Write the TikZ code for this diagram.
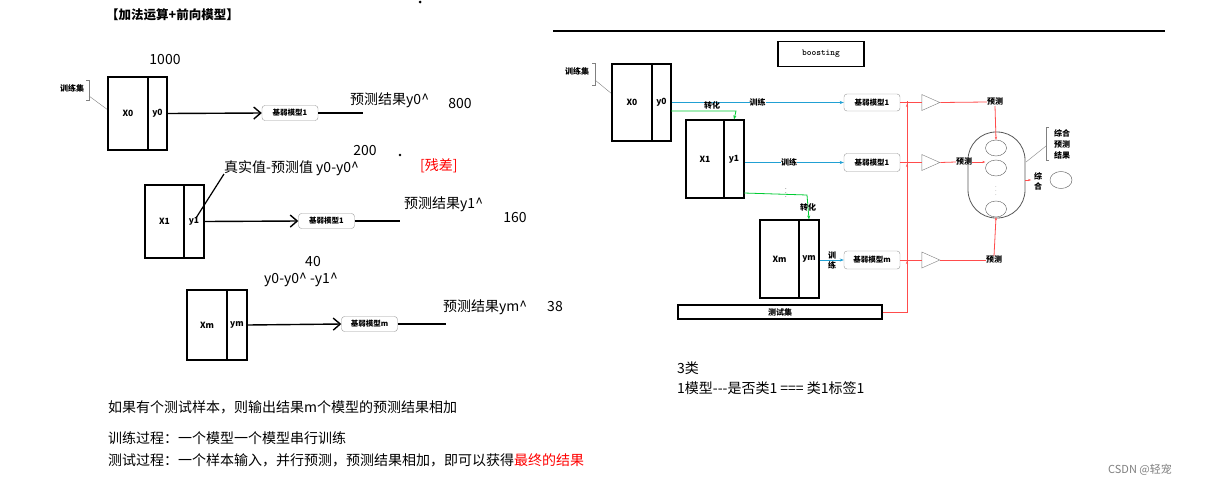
\documentclass[tikz,border=0pt]{standalone}
\usepackage{fontspec}
\setmainfont{Noto Sans CJK SC}
\usetikzlibrary{arrows.meta,shapes.geometric}
\begin{document}
\begin{tikzpicture}[x=1pt,y=-1pt,
 box/.style={draw,line width=1.3pt,inner sep=0pt,font=\fontsize{8.5}{9}\selectfont\bfseries},
 rbox/.style={draw,line width=1.1pt,inner sep=0pt,font=\fontsize{8.5}{9}\selectfont\bfseries},
 model/.style={draw=gray!80,rounded corners=3pt,fill=white,inner sep=1pt,minimum width=56pt,minimum height=15pt,font=\fontsize{7.5}{8}\selectfont\bfseries},
 txt/.style={inner sep=0pt,font=\fontsize{14}{16}\selectfont},
 big/.style={line width=1.4pt,-{Straight Barb[length=7pt,width=12pt,line width=1.4pt]}},
 cy/.style={draw=cyan!70!teal,line width=1pt,-{Stealth[length=4pt]}},
 gr/.style={draw=green!60!teal,line width=0.8pt},
 rd/.style={draw=red!70,line width=0.8pt},
 tri/.style={draw=gray,isosceles triangle,isosceles triangle stretches,minimum width=16pt,minimum height=18pt,inner sep=0pt},
 sm/.style={inner sep=0pt,font=\fontsize{8}{9}\selectfont\bfseries}]
\useasboundingbox (0,0) rectangle (1218,488);
\fill[white] (0,0) rectangle (1218,488);
% ---------- left ----------
\node[txt,anchor=west,font=\fontsize{12.5}{14}\selectfont\bfseries] (title) at (106,15) {【加法运算+前向模型】};
\fill (420,2) circle (1.5);
\node[txt] (n1000) at (165,60) {1000};
\node[sm] (trl) at (72,88) {训练集};
\draw[gray] (86,80) -- (89,80) -- (89,100) -- (86,100);
\draw[gray] (89,96) -- (108,110);
\node[box,minimum width=40pt,minimum height=73pt] (X0) at (128,113.5) {X0};
\node[box,minimum width=19pt,minimum height=73pt] (y0) at (157.5,113.5) {y0};
\node[model] (m0) at (290,113) {基弱模型1};
\coordinate (e0) at (363,113);
\draw[big] (y0.east) -- (m0.west);
\draw[line width=1.4pt] (m0.east) -- (e0);
\node[txt,anchor=west] (p0) at (350,100) {预测结果y0\textasciicircum};
\node[txt] (n800) at (460,104) {800};
\node[txt] (n200) at (365,151) {200};
\fill (400,155) circle (1.3);
\node[txt,anchor=west] (res) at (224,168) {真实值-预测值 y0-y0\textasciicircum};
\node[txt,red,anchor=west] (cc) at (420,166) {[残差]};
\node[box,minimum width=39pt,minimum height=73pt] (X1) at (164.5,221.5) {X1};
\node[box,minimum width=20pt,minimum height=73pt] (y1) at (194,221.5) {y1};
\coordinate (rs) at (224,174);
\draw[line width=1.2pt] (196,218) -- (rs);
\node[model] (m1) at (326.5,221) {基弱模型1};
\coordinate (e1) at (400,221);
\draw[big] (y1.east) -- (m1.west);
\draw[line width=1.4pt] (m1.east) -- (e1);
\node[txt,anchor=west] (p1) at (404,204) {预测结果y1\textasciicircum};
\node[txt] (n160) at (515,218) {160};
\node[txt] (n40) at (313,262) {40};
\node[txt,anchor=west] (r2) at (264,280) {y0-y0\textasciicircum\ -y1\textasciicircum};
\node[box,minimum width=40pt,minimum height=70pt] (Xm) at (207,325) {Xm};
\node[box,minimum width=20pt,minimum height=70pt] (ym) at (237,325) {ym};
\node[model] (mm) at (369.5,324) {基弱模型m};
\coordinate (em) at (446,324);
\draw[big] (ym.east) -- (mm.west);
\draw[line width=1.4pt] (mm.east) -- (em);
\node[txt,anchor=west] (pm) at (443,307) {预测结果ym\textasciicircum};
\node[txt] (n38) at (555,307) {38};
\node[txt,anchor=west] (b1) at (108,407) {如果有个测试样本，则输出结果m个模型的预测结果相加};
\node[txt,anchor=west] (b2) at (108,438) {训练过程：一个模型一个模型串行训练};
\node[txt,anchor=west] (b3) at (108,460) {测试过程：一个样本输入，并行预测，预测结果相加，即可以获得\textcolor{red}{最终的结果}};
% ---------- right ----------
\draw[line width=1.5pt] (553,31) -- (1165,31);
\node[draw,line width=1.3pt,minimum width=86pt,minimum height=25pt,inner sep=0pt,font=\ttfamily\bfseries\fontsize{9}{10}\selectfont] (boost) at (821,54) {boosting};
\node[sm] (rtr) at (577,71) {训练集};
\draw[gray] (592,63) -- (595,63) -- (595,85) -- (592,85);
\draw[gray] (595,80) -- (612,94);
\node[rbox,minimum width=40pt,minimum height=77pt] (RX0) at (632,102.5) {X0};
\node[rbox,minimum width=19pt,minimum height=77pt] (Ry0) at (661.5,102.5) {y0};
\node[rbox,minimum width=38pt,minimum height=78pt] (RX1) at (705,159) {X1};
\node[rbox,minimum width=20pt,minimum height=78pt] (Ry1) at (734,159) {y1};
\node[rbox,minimum width=39pt,minimum height=78pt] (RXm) at (779.5,259) {Xm};
\node[rbox,minimum width=20pt,minimum height=78pt] (Rym) at (809,259) {ym};
\node[model,minimum height=17pt] (RM1) at (872,102.5) {基弱模型1};
\node[model,minimum height=18pt] (RM2) at (872,162.5) {基弱模型1};
\node[model,minimum height=18pt] (RMm) at (872,260) {基弱模型m};
\draw[cy] (Ry0.east |- 0,102.5) -- (RM1.west) node[pos=0.5,sm,fill=white,text=black] {训练};
\draw[cy] (Ry1.east |- 0,162.5) -- (RM2.west) node[pos=0.45,sm,fill=white,text=black] {训练};
\draw[cy] (Rym.east |- 0,260) -- (RMm.west);
\node[sm,align=center,font=\fontsize{8}{10}\selectfont\bfseries] (trm) at (832,260) {训\\练};
\draw[gr,-{Stealth[length=4pt]}] (671,111) -- (736,111) -- (Ry1.north);
\node[sm] (zh1) at (712,105) {转化};
\draw[gr,-{Stealth[length=4pt]}] (744,193) -- (807,195) -- (Rym.north);
\node[inner sep=0pt,font=\fontsize{6}{6}\selectfont] (dots1) at (786,190) {$\vdots$};
\node[sm] (zh2) at (808,207) {转化};
\node[draw,line width=1.1pt,minimum width=204pt,minimum height=14pt,inner sep=0pt,font=\fontsize{8}{9}\selectfont\bfseries] (test) at (780,312) {测试集};
\node[tri] (T1) at (927,102.5) {};
\node[tri] (T2) at (927,162.5) {};
\node[tri] (T3) at (927,260) {};
\draw[rd] (RM1.east) -- (T1.west);
\draw[rd] (RM2.east) -- (T2.west);
\draw[rd] (RMm.east) -- (T3.west);
\coordinate (vt) at (907,101);
\draw[rd] (test.east) -- (907,312) -- (vt);
\foreach \yy in {104,164,261} \draw[rd,-{Stealth[length=3pt]}] (907,\yy+4) -- (907,\yy);
\draw[gray!70!black,line width=0.8pt,rounded corners=28pt] (968,132) rectangle (1025,218);
\node[draw=gray!70!black,ellipse,minimum width=21pt,minimum height=16pt,inner sep=0pt] (E1) at (996,148) {};
\node[draw=gray!70!black,ellipse,minimum width=21pt,minimum height=16pt,inner sep=0pt] (E2) at (996,168) {};
\node[draw=gray!70!black,ellipse,minimum width=21pt,minimum height=16pt,inner sep=0pt] (E3) at (996,209) {};
\node[inner sep=0pt,gray,font=\fontsize{6}{6}\selectfont] (dots2) at (996,188) {$\vdots$};
\node[sm] (pr1) at (995,102) {预测};
\node[sm] (pr2) at (964,162) {预测};
\node[sm] (pr3) at (994,260) {预测};
\draw[rd] (T1.east) -- (pr1.west);
\draw[rd] (T2.east) -- (pr2.west);
\draw[rd] (T3.east) -- (pr3.west);
\draw[rd,-{Stealth[length=3pt]}] (pr1.south) -- (E1.north);
\draw[rd,-{Stealth[length=3pt]}] (pr2.east) -- (E2.west |- 0,162);
\draw[rd,-{Stealth[length=3pt]}] (pr3.north) -- (E3.south);
\draw[gray] (1049,127) -- (1046,127) -- (1046,160) -- (1049,160);
\draw[gray] (1026,162) -- (1046,146);
\node[sm,align=center,font=\fontsize{8}{11}\selectfont\bfseries] (zh) at (1062,144) {综合\\预测\\结果};
\node[sm,align=center,font=\fontsize{8}{10}\selectfont\bfseries] (zh3) at (1038,181) {综\\合};
\node[draw=gray!70!black,ellipse,minimum width=22pt,minimum height=17pt,inner sep=0pt] (E4) at (1061,180) {};
\draw[rd,-{Stealth[length=3pt]}] (1025,180) -- (1031,180);
\node[txt,anchor=west] (c3) at (677,368) {3类};
\node[txt,anchor=west] (c4) at (677,388) {1模型{-}{-}{-}是否类1 === 类1标签1};
\node[txt,gray,font=\fontsize{11}{13}\selectfont] (wm) at (1140,470) {CSDN @轻宠};
\end{tikzpicture}
\end{document}
